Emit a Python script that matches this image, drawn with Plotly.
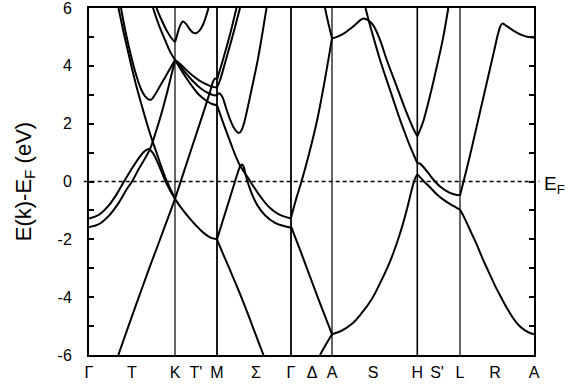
import plotly.graph_objects as go

# high-symmetry points (k coordinate along path)
sym_names = ["K", "M", "Γ", "A", "H", "L"]
sym_k = [86, 128, 202, 243, 328.3, 371]
sym_width = [1.2, 1.8, 1.8, 1.2, 1.6, 1.2]

# x tick labels
label_k = [0, 43, 86, 107, 128, 167, 202, 223, 243, 284, 328.3, 348, 371, 406, 445]
label_text = ["Γ", "T", "K", "T'", "M", "Σ", "Γ", "Δ", "A", "S", "H", "S'", "L", "R", "A"]

# y ticks
ytick_vals = [-6, -5, -4, -3, -2, -1, 0, 1, 2, 3, 4, 5, 6]
ytick_text = ["-6", "", "-4", "", "-2", "", "0", "", "2", "", "4", "", "6"]

# ---- bands: (k, E) points ----
# Gamma - K
gk1 = [(0, -1.57), (10, -1.47), (20, -1.18), (30, -0.72), (38, -0.25), (43, 0.0), (50, 0.45),
       (56, 0.8), (61, 1.12), (66, 1.62), (72, 2.3), (79, 3.2), (86, 4.2)]
gk2 = [(0, -1.28), (10, -1.15), (20, -0.82), (28, -0.42), (35, 0.0), (42, 0.4), (50, 0.82),
       (56, 1.06), (60, 1.12), (64, 0.98), (70, 0.55), (76, 0.05), (81, -0.3), (86, -0.6)]
gk3 = [(29.5, 6), (35, 5.1), (41, 4.2), (47, 3.35), (53, 2.6), (58, 2.0), (63, 1.45),
       (68, 0.95), (73, 0.45), (78, 0.0), (82, -0.3), (86, -0.6)]
gk4 = [(32, 6), (37, 5.1), (42, 4.35), (47, 3.7), (52, 3.2), (56, 2.95), (60, 2.83),
       (62.5, 2.84), (66, 3.0), (71, 3.3), (76, 3.6), (81, 3.9), (86, 4.2)]
gk5 = [(29.3, -6), (40, -4.95), (50, -3.98), (60, -3.02), (70, -2.1), (78, -1.35), (86, -0.6)]
gk6 = [(64, 6), (70, 5.4), (76, 4.9), (81, 4.5), (86, 4.2)]
gk7 = [(67.5, 6), (73, 5.55), (78, 5.2), (82, 4.98), (86, 4.82)]
# K - M
km7 = [(86, 4.82), (88, 5.05), (91, 5.38), (94, 5.53), (97, 5.45), (101, 5.25), (104, 5.15),
       (107, 5.13), (110, 5.2), (113, 5.35), (116, 5.6), (119.5, 6)]
kmA = [(86, 4.2), (90, 4.1), (96, 3.9), (103, 3.68), (110, 3.5), (117, 3.37), (123, 3.28), (128, 3.25)]
kmB = [(86, 4.2), (90, 4.05), (96, 3.78), (103, 3.5), (110, 3.27), (117, 3.1), (123, 3.0), (128, 2.97)]
kmC = [(86, 4.2), (90, 3.98), (96, 3.65), (103, 3.3), (110, 3.0), (117, 2.8), (123, 2.68), (128, 2.64)]
kmE = [(86, -0.6), (95, 0.35), (105, 1.4), (115, 2.45), (121, 3.1), (124, 3.45), (126, 3.56), (128, 3.52)]
kmD = [(86, -0.6), (93, -0.95), (100, -1.25), (107, -1.52), (114, -1.76), (121, -1.93), (128, -2.0)]
# M - Gamma
mgE = [(128, 3.52), (133, 4.1), (140, 4.95), (147.5, 6)]
mgA = [(128, 3.25), (131, 3.5), (136, 4.1), (143, 4.95), (151, 6)]
mgB = [(128, 2.97), (130, 3.05), (133, 2.95), (137, 2.55), (141, 2.15), (145, 1.85), (149, 1.69),
       (151, 1.7), (154, 1.9), (158, 2.45), (163, 3.25), (169, 4.25), (177.5, 6)]
mgH = [(128, 2.64), (135, 1.95), (142, 1.3), (147, 0.85), (151, 0.55), (155, 0.33), (158, 0.18),
       (161, 0.02), (165, -0.2), (172, -0.55), (180, -0.88), (190, -1.14), (202, -1.28)]
mgI = [(128, -2.0), (134, -1.33), (140, -0.67), (146, 0.0), (149.5, 0.38), (151.5, 0.55),
       (153, 0.59), (154.5, 0.52), (156.5, 0.25), (158.5, 0.0), (162, -0.35), (168, -0.8),
       (176, -1.17), (186, -1.43), (202, -1.6)]
mgJ = [(128, -2.0), (134, -2.5), (140, -2.98), (146, -3.47), (152, -3.97), (158, -4.5),
       (164, -5.05), (170, -5.6), (174.5, -6)]
# Gamma - A
gaK = [(202, -1.25), (207, -0.62), (212.5, 0.0), (220, 0.95), (228, 2.1), (235, 3.35), (243, 4.95)]
gaL = [(236, 6), (239.5, 5.45), (243, 4.95)]
gaN = [(202, -1.55), (212, -2.45), (222, -3.38), (232, -4.3), (243, -5.28)]
gaB = [(231, -6), (237, -5.63), (243, -5.28)]
# A - H
ahU = [(243, 4.95), (248, 5.0), (255, 5.12), (262, 5.3), (268, 5.48), (272, 5.6), (275, 5.64),
       (279, 5.58), (284.3, 5.4), (291, 4.9), (297.7, 4.21), (307.7, 3.29), (317.7, 2.37),
       (324, 1.85), (328.3, 1.56)]
ahN = [(276.5, 6), (281, 5.4), (286, 4.8), (291, 4.21), (296, 3.68), (301, 3.17), (306, 2.65),
       (311, 2.14), (316, 1.67), (321, 1.22), (325, 0.9), (328.3, 0.64)]
ahP = [(243, -5.28), (252, -5.17), (262.7, -4.93), (272, -4.58), (282.7, -4.07), (292, -3.45),
       (302.7, -2.62), (311, -1.8), (318, -0.95), (323, -0.25), (326, 0.1), (328.3, 0.24)]
# H - L
hlV = [(328.3, 1.56), (331, 1.78), (334, 2.05), (338, 2.55), (343, 3.25), (348, 4.0),
       (354, 4.95), (359.3, 6)]
hlU = [(328.3, 0.64), (331, 0.62), (334, 0.52), (338, 0.35), (342, 0.17), (346, 0.0),
       (352, -0.2), (358, -0.34), (364, -0.43), (371, -0.48)]
hlL = [(328.3, 0.24), (331, 0.15), (335, 0.0), (341, -0.2), (348, -0.45), (354, -0.62),
       (362, -0.8), (371, -0.97)]
# L - A
laU = [(371, -0.48), (376, 0.2), (382, 1.05), (388, 1.95), (394, 2.85), (400, 3.75), (405, 4.5),
       (409, 5.1), (411.5, 5.38), (413.5, 5.46), (416, 5.42), (420, 5.32), (426, 5.18),
       (433, 5.06), (439, 5.0), (445, 4.98)]
laL = [(371, -0.97), (376, -1.3), (382, -1.75), (388, -2.2), (394, -2.7), (400, -3.15),
       (406, -3.6), (412, -4.0), (418, -4.38), (424, -4.72), (430, -4.98), (436, -5.15),
       (441, -5.24), (445, -5.28)]

bands = [gk1, gk2, gk3, gk4, gk5, gk6, gk7, km7, kmA, kmB, kmC, kmE, kmD,
         mgE, mgA, mgB, mgH, mgI, mgJ, gaK, gaL, gaN, gaB, ahU, ahN, ahP,
         hlV, hlU, hlL, laU, laL]

FONT = "Liberation Sans, Arial, Helvetica, sans-serif"

fig = go.Figure()
for b in bands:
    fig.add_trace(go.Scatter(
        x=[p[0] for p in b], y=[p[1] for p in b], mode="lines",
        line=dict(color="black", width=2, shape="spline", smoothing=1.0),
        showlegend=False, hoverinfo="skip"))

for k, w in zip(sym_k, sym_width):
    fig.add_shape(type="line", xref="x", yref="paper", x0=k, x1=k, y0=0, y1=1,
                  line=dict(color="black", width=w), layer="above")

fig.add_shape(type="line", xref="paper", yref="y", x0=-0.012, x1=1.012, y0=0, y1=0,
              line=dict(color="black", width=1.5, dash="4px,3px"), layer="above")

fig.add_annotation(xref="paper", yref="y", x=1, y=0, xanchor="left", yanchor="middle",
                   xshift=8, yshift=-3, showarrow=False,
                   text="E<sub>F</sub>", font=dict(family=FONT, size=19, color="black"))

fig.update_layout(
    width=574, height=388,
    margin=dict(l=89, r=40, t=8, b=33),
    paper_bgcolor="white", plot_bgcolor="white",
    xaxis=dict(range=[0, 445], showgrid=False, zeroline=False, showline=True,
               linecolor="black", linewidth=2, mirror=True, ticks="", automargin=False,
               ticklabeloverflow="allow",
               tickvals=label_k, ticktext=label_text, ticklabelstandoff=2,
               tickfont=dict(family=FONT, size=16, color="black")),
    yaxis=dict(range=[-6, 6], showgrid=False, zeroline=False, showline=True,
               linecolor="black", linewidth=2, mirror="ticks", ticks="inside",
               ticklen=5, tickwidth=1.5, tickcolor="black", automargin=False,
               ticklabeloverflow="allow",
               tickvals=ytick_vals, ticktext=ytick_text, ticklabelstandoff=12,
               tickfont=dict(family=FONT, size=16, color="black"),
               title=dict(text="E(k)-E<sub>F</sub> (eV)", standoff=20,
                          font=dict(family=FONT, size=22, color="black"))),
)

fig.write_html("out.html")
